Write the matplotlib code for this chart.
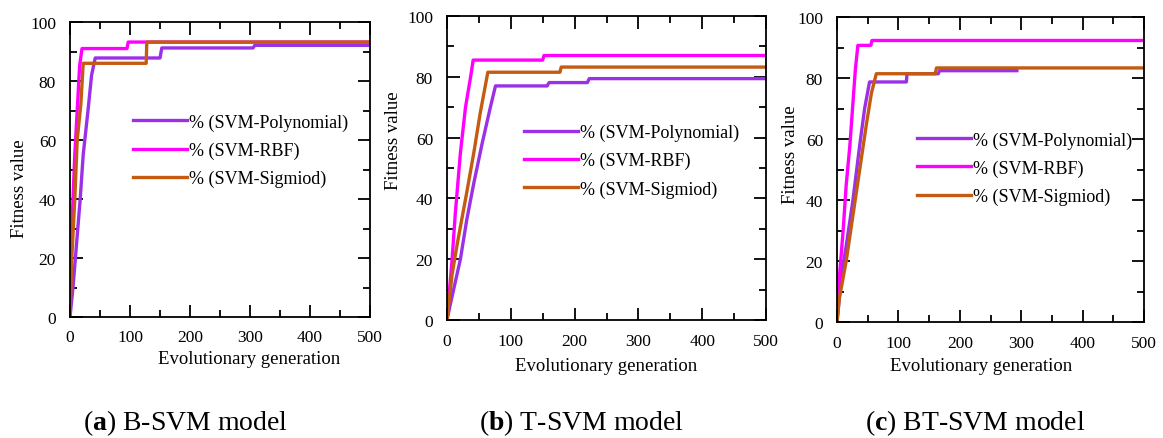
import matplotlib
matplotlib.use("Agg")
import matplotlib.pyplot as plt
from matplotlib.ticker import MultipleLocator

plt.rcParams['font.family'] = ['Liberation Serif', 'DejaVu Serif']
plt.rcParams['mathtext.fontset'] = 'custom'
plt.rcParams['mathtext.bf'] = 'Liberation Serif:bold'
plt.rcParams['mathtext.rm'] = 'Liberation Serif'

labels = ['% (SVM-Polynomial)', '% (SVM-RBF)', '% (SVM-Sigmiod)']
colors = ['#9B30E6', '#FF00FF', '#C55A11']
captions = [r'($\mathbf{a}$) B-SVM model', r'($\mathbf{b}$) T-SVM model', r'($\mathbf{c}$) BT-SVM model']

# panel a: B-SVM
a_poly_x = [0, 5, 11, 17, 22, 30, 36, 42, 150, 153, 305, 308, 500]
a_poly_y = [0, 10, 25, 40, 55, 70, 82, 87.8, 87.8, 91.2, 91.2, 92.1, 92.1]
a_rbf_x = [0, 3, 8, 12, 16, 20, 95, 97, 500]
a_rbf_y = [0, 30, 55, 70, 85, 91.0, 91.0, 93.2, 93.2]
a_sig_x = [0, 3, 8, 12, 18, 22, 127, 128, 500]
a_sig_y = [0, 20, 40, 60, 72, 86.0, 86.0, 93.2, 93.2]

# panel b: T-SVM
b_poly_x = [0, 5, 21, 31, 42, 55, 68, 76, 157, 160, 220, 223, 500]
b_poly_y = [0, 5, 20, 33, 45, 58, 70, 77, 77, 78.1, 78.1, 79.4, 79.4]
b_rbf_x = [0, 8, 13, 21, 29, 37, 41, 150, 152, 500]
b_rbf_y = [0, 20, 35, 55, 70, 80, 85.5, 85.5, 87.0, 87.0]
b_sig_x = [0, 8, 16, 31, 42, 52, 60, 64, 177, 179, 500]
b_sig_y = [0, 15, 25, 42, 55, 68, 77, 81.5, 81.5, 83.2, 83.2]

# panel c: BT-SVM
c_poly_x = [0, 7, 15, 26, 37, 45, 53, 113, 114, 165, 167, 293]
c_poly_y = [0, 15, 25, 40, 58, 70, 78.7, 78.7, 81.4, 81.4, 82.4, 82.4]
c_rbf_x = [0, 4, 10, 15, 21, 26, 30, 34, 55, 57, 500]
c_rbf_y = [0, 15, 30, 45, 58, 72, 83, 90.7, 90.7, 92.3, 92.3]
c_sig_x = [0, 4, 15, 26, 37, 48, 56, 64, 160, 162, 500]
c_sig_y = [0, 8, 20, 35, 50, 65, 75, 81.4, 81.4, 83.3, 83.3]

panels = [
    [(a_poly_x, a_poly_y), (a_rbf_x, a_rbf_y), (a_sig_x, a_sig_y)],
    [(b_poly_x, b_poly_y), (b_rbf_x, b_rbf_y), (b_sig_x, b_sig_y)],
    [(c_poly_x, c_poly_y), (c_rbf_x, c_rbf_y), (c_sig_x, c_sig_y)],
]

W, H = 1163, 439
fig = plt.figure(figsize=(W / 100, H / 100), dpi=100)

# axes boxes in pixels: left, top, right, bottom
boxes = [(70, 23, 370, 318), (447, 17, 766, 321), (837, 18, 1144, 323)]
xlab_pos = [(0.597, -0.112), (0.5, -0.122), (0.469, -0.115)]
ylab_pos = [(-0.14, 0.437), (-0.141, 0.592), (-0.124, 0.551)]
leg_pos = [(0.21, 0.69), (0.24, 0.645), (0.26, 0.625)]
cap_x = [185, 581, 975]

for i, series in enumerate(panels):
    l, t, r, b = boxes[i]
    ax = fig.add_axes([l / W, 1 - b / H, (r - l) / W, (b - t) / H])
    for (xs, ys), lab, col in zip(series, labels, colors):
        ax.plot(xs, ys, color=col, lw=2.4, label=lab, solid_joinstyle='round')
    ax.set_xlim(0, 500)
    ax.set_ylim(0, 100)
    ax.xaxis.set_major_locator(MultipleLocator(100))
    ax.xaxis.set_minor_locator(MultipleLocator(50))
    ax.yaxis.set_major_locator(MultipleLocator(20))
    ax.yaxis.set_minor_locator(MultipleLocator(10))
    ax.tick_params(which='both', direction='in', top=True, right=True, width=1.3, labelsize=12.5)
    ax.tick_params(which='major', length=9)
    ax.tick_params(which='minor', length=5)
    ax.tick_params(axis='x', pad=9)
    ax.tick_params(axis='y', pad=10)
    for s in ax.spines.values():
        s.set_linewidth(1.3)
    ax.set_xlabel('Evolutionary generation', fontsize=13.5)
    ax.set_ylabel('Fitness value', fontsize=13.5)
    ax.xaxis.set_label_coords(*xlab_pos[i])
    ax.yaxis.set_label_coords(*ylab_pos[i])
    ax.legend(loc='upper left', bbox_to_anchor=leg_pos[i], frameon=False, fontsize=13,
              handlelength=3.0, handletextpad=0.1, labelspacing=0.6,
              borderpad=0, borderaxespad=0)
    fig.text(cap_x[i] / W, 1 - 430 / H, captions[i], ha='center', va='baseline', fontsize=20)

fig.savefig('out.png', dpi=100)
